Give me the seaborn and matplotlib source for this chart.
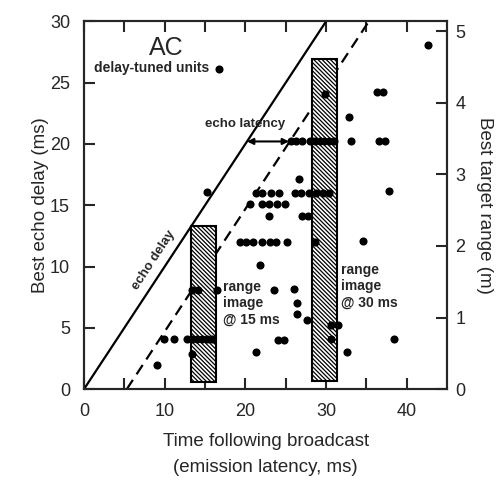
import numpy as np
import matplotlib.pyplot as plt
import seaborn as sns

# delay-tuned units: time following broadcast (ms) vs best echo delay (ms)
unit_time = [42.6, 29.9, 36.3, 37.1, 32.8,
             25.6, 26.3, 27.0, 28.0, 28.6, 29.2, 29.8, 30.4, 31.0, 33.1, 36.6, 37.3,
             26.6, 15.3,
             21.3, 22.1, 23.2, 24.2, 26.1, 26.9, 27.9, 28.7, 29.6, 30.4, 37.8,
             20.6, 22.1, 22.9, 23.9, 24.9,
             22.9, 27.0, 27.8,
             19.3, 20.1, 21.0, 22.0, 23.0, 23.8, 25.2, 28.6, 34.6,
             21.8,
             13.4, 14.1, 16.5, 23.6, 26.0,
             26.4, 26.4, 27.6, 30.6, 31.5,
             9.9, 11.2, 12.8, 13.4, 14.0, 14.6, 15.2, 15.8, 24.0, 24.8, 30.6, 38.4,
             32.6, 21.3, 13.4, 9.0]
unit_delay = [28.1, 24.1, 24.2, 24.2, 22.2,
              20.2, 20.2, 20.2, 20.2, 20.2, 20.2, 20.2, 20.2, 20.2, 20.2, 20.2, 20.2,
              17.1, 16.1,
              16.0, 16.0, 16.0, 16.0, 16.0, 16.0, 16.0, 16.0, 16.0, 16.0, 16.2,
              15.1, 15.1, 15.1, 15.1, 15.1,
              14.1, 14.1, 14.1,
              12.0, 12.0, 12.0, 12.0, 12.0, 12.0, 12.0, 12.0, 12.1,
              10.1,
              8.1, 8.1, 8.1, 8.1, 8.15,
              7.0, 6.1, 5.6, 5.2, 5.2,
              4.1, 4.1, 4.1, 4.1, 4.1, 4.1, 4.1, 4.1, 4.0, 4.0, 4.1, 4.1,
              3.0, 3.0, 2.9, 2.0]

# echo delay line and the echo-latency-shifted line
line_delay = np.array([0, 30])
echo_latency = 5.3

# range image windows (ms)
box_left = [13.3, 28.2]
box_width = [3.1, 3.2]
box_bottom = [0.6, 0.7]
box_top = [13.3, 26.9]

ms_per_m = 5.84

sns.set_style("ticks")
plt.rcParams['font.family'] = ['Liberation Sans', 'DejaVu Sans']
plt.rcParams['hatch.linewidth'] = 0.9

fig = plt.figure(figsize=(5.03, 4.84), dpi=100)
ax = fig.add_axes([0.167, 0.196, 0.722, 0.760])

sns.lineplot(x=line_delay, y=line_delay, color='black', lw=1.6, ax=ax, zorder=1)
sns.lineplot(x=line_delay + echo_latency, y=line_delay, color='black', lw=1.6,
             linestyle=(0, (5, 3)), ax=ax, zorder=1)

ax.bar(box_left, np.array(box_top) - np.array(box_bottom), bottom=box_bottom,
       width=box_width, align='edge', facecolor='white', edgecolor='black',
       hatch='\\' * 8, lw=1.5, zorder=2)

sns.scatterplot(x=unit_time, y=unit_delay, color='black', s=34, linewidth=0,
                ax=ax, zorder=4, label='delay-tuned units')
leg = ax.legend(loc='center left', bbox_to_anchor=(0.02, 0.872), frameon=False,
                markerfirst=False, handletextpad=0.3, borderaxespad=0, borderpad=0.2,
                prop={'size': 10, 'weight': 'bold'}, handlelength=0.8)

ax.annotate('', xy=(25.4, 20.2), xytext=(20.2, 20.2),
            arrowprops=dict(arrowstyle='<|-|>', color='black', lw=1.5,
                            mutation_scale=9, shrinkA=0, shrinkB=0), zorder=3)
ax.text(20.0, 21.6, 'echo latency', ha='center', va='center', fontsize=9.5,
        fontweight='bold')
ax.text(8.7, 10.5, 'echo delay', ha='center', va='center', fontsize=9.5,
        fontweight='bold', rotation=56.7, rotation_mode='anchor')
ax.text(10.2, 27.8, 'AC', ha='center', va='center', fontsize=18)
ax.text(17.2, 8.9, 'range\nimage\n@ 15 ms', ha='left', va='top', fontsize=10,
        fontweight='bold', linespacing=1.2)
ax.text(31.9, 10.3, 'range\nimage\n@ 30 ms', ha='left', va='top', fontsize=10,
        fontweight='bold', linespacing=1.2)

ax.set_xlim(0, 45)
ax.set_ylim(0, 30)
ax.set_xticks([0, 10, 20, 30, 40])
ax.set_xticks([5, 15, 25, 35], minor=True)
ax.set_yticks([0, 5, 10, 15, 20, 25, 30])
ax.tick_params(which='both', direction='in', length=8, width=1.5, top=True,
               right=False, labelsize=13, pad=10)
ax.set_xlabel('Time following broadcast\n(emission latency, ms)', fontsize=13.5,
              linespacing=1.7, labelpad=9)
ax.set_ylabel('Best echo delay (ms)', fontsize=13.5, labelpad=1)
for s in ax.spines.values():
    s.set_linewidth(1.5)

ax2 = ax.twinx()
ax2.set_ylim(0, 30 / ms_per_m)
ax2.set_yticks([0, 1, 2, 3, 4, 5])
ax2.tick_params(direction='in', length=8, width=1.5, labelsize=13, pad=6)
ax2.set_ylabel('Best target range (m)', fontsize=13.5, rotation=270, labelpad=20)
for s in ax2.spines.values():
    s.set_linewidth(1.5)

fig.savefig('out.png', dpi=100)
